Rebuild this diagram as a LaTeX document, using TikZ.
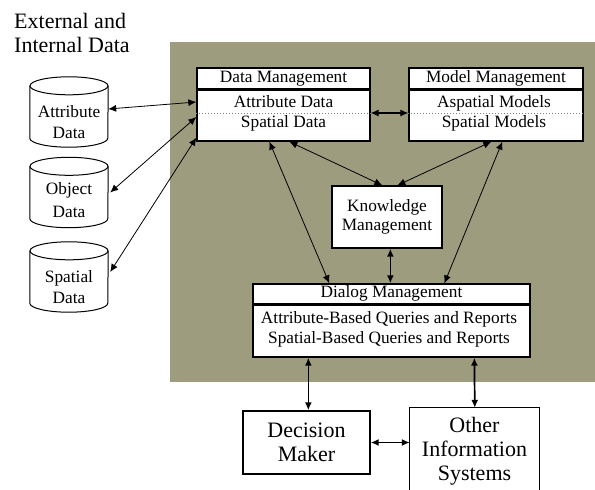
\documentclass[tikz,border=0pt]{standalone}
\usepackage{fontspec}
\setmainfont{Liberation Serif}
\usetikzlibrary{arrows.meta}
\definecolor{panel}{RGB}{157,156,127}
\begin{document}
\begin{tikzpicture}[x=1pt,y=-1pt,
  box/.style={draw, line width=1.3pt, fill=white, inner sep=0pt},
  lbl/.style={font=\fontsize{17.3}{20}\selectfont, inner sep=0pt, align=center},
  big/.style={font=\fontsize{22}{24.5}\selectfont, inner sep=0pt, align=center},
  hdr/.style={line width=2.4pt},
  sep/.style={gray, line width=0.8pt, dash pattern=on 0.8pt off 2.2pt},
  link/.style={{Latex[length=8pt,width=7pt]}-{Latex[length=8pt,width=7pt]}, line width=0.8pt},
  heavy link/.style={link, line width=1.7pt},
  cyl/.style={minimum width=78pt, minimum height=70pt, inner sep=0pt},
  cylline/.style={line width=1pt}]
\useasboundingbox (0,0) rectangle (595,490);

% shaded system panel
\fill[panel] (170,42) rectangle (595,382);

% heading
\node[big, align=left, anchor=west] (head) at (14,33) {External and\\Internal Data};

% data stores
\node[cyl] (cA) at (69,112) {};
\node[cyl] (cO) at (69,192.5) {};
\node[cyl] (cS) at (69,277) {};
\foreach \c in {cA,cO,cS}{
  \draw[cylline] ([yshift=-9pt]\c.north) ellipse [x radius=39pt, y radius=9pt];
  \draw[cylline] ([yshift=-9pt]\c.north west) -- ([yshift=9pt]\c.south west)
    arc[start angle=180, end angle=360, x radius=39pt, y radius=9pt]
    -- ([yshift=-9pt]\c.north east);
}
\node[lbl, font=\fontsize{17.3}{21}\selectfont] (cAt) at ([yshift=-10pt]cA.center) {Attribute\\Data};
\node[lbl, font=\fontsize{17.3}{23}\selectfont] (cOt) at ([yshift=-8pt]cO.center) {Object\\Data};
\node[lbl, font=\fontsize{17.3}{21}\selectfont] (cSt) at ([yshift=-10pt]cS.center) {Spatial\\Data};

% data management
\node[box, minimum width=173pt, minimum height=73pt] (dm) at (283.5,104.5) {};
\draw[hdr] ([yshift=-22pt]dm.north west) -- ([yshift=-22pt]dm.north east);
\draw[sep] ([yshift=-8.5pt]dm.west) -- ([yshift=-8.5pt]dm.east);
\node[lbl] (dmt) at ([yshift=-11pt]dm.north) {Data Management};
\node[lbl] (dmb) at (283.5,113) {Attribute Data\\Spatial Data};

% model management
\node[box, minimum width=174pt, minimum height=73pt] (mm) at (496,104.5) {};
\draw[hdr] ([yshift=-22pt]mm.north west) -- ([yshift=-22pt]mm.north east);
\draw[sep] ([yshift=-8.5pt]mm.west) -- ([yshift=-8.5pt]mm.east);
\node[lbl] (mmt) at ([yshift=-11pt]mm.north) {Model Management};
\node[lbl] (mmb) at (494,113) {Aspatial Models\\Spatial Models};

% knowledge management
\node[box, minimum width=110pt, minimum height=62pt, lbl, font=\fontsize{17.3}{19}\selectfont] (km) at (387,217) {Knowledge\\Management};

% dialog management
\node[box, minimum width=277pt, minimum height=73pt] (dlg) at (391.5,320.5) {};
\draw[hdr] ([yshift=-21pt]dlg.north west) -- ([yshift=-21pt]dlg.north east);
\node[lbl] (dlgt) at ([yshift=-10.5pt]dlg.north) {Dialog Management};
\node[lbl] (dlgb) at (389,329) {Attribute-Based Queries and Reports\\Spatial-Based Queries and Reports};

% decision maker and other systems
\node[box, big, minimum width=127pt, minimum height=63pt] (dec) at (306.5,442.5) {Decision\\Maker};
\node[inner sep=0pt, minimum width=129pt, minimum height=86pt] (ois) at (474.5,451) {};
\draw[line width=1pt] (ois.south west) -- (ois.north west) -- (ois.north east) -- (ois.south east);
\node[big, font=\fontsize{22}{24}\selectfont] (oist) at (474.5,451) {Other\\Information\\Systems};

% connectors
\draw[link] ([yshift=3pt]cA.east) -- ([yshift=2.5pt]dm.west);
\draw[link] ([xshift=2pt]cO.east) -- ([yshift=-12.5pt]dm.west);
\draw[link] ([xshift=2pt,yshift=5pt]cS.east) -- ([yshift=4pt]dm.south west);
\draw[link, line width=1.1pt] ([yshift=-8.5pt]dm.east) -- ([yshift=-8.5pt]mm.west);
\draw[link] ([xshift=73pt]dm.south west) -- ([xshift=77pt]dlg.north west);
\draw[link] ([xshift=93pt]dm.south west) -- ([xshift=51pt]km.north west);
\draw[link] ([xshift=83pt]mm.south west) -- ([xshift=66pt]km.north west);
\draw[link] ([xshift=94pt]mm.south west) -- ([xshift=192pt]dlg.north west);
\draw[heavy link] ([xshift=59pt]km.south west) -- ([xshift=138pt]dlg.north west);
\draw[heavy link] ([xshift=56pt]dlg.south west) -- ([xshift=66pt]dec.north west);
\draw[heavy link] ([xshift=222pt]dlg.south west) -- ([xshift=65pt]ois.north west);
\draw[heavy link] (dec.east) -- ([yshift=8.5pt]ois.west);
\end{tikzpicture}
\end{document}
